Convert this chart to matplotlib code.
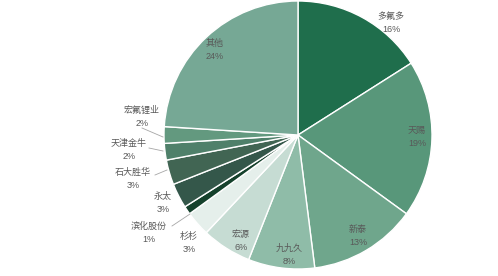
import matplotlib
matplotlib.use('Agg')
import matplotlib.pyplot as plt

plt.rcParams['font.family'] = ['Liberation Sans', 'Noto Sans CJK SC', 'DejaVu Sans']

# 各企业占比（%），从正上方顺时针
names = ['多氟多', '天赐', '新泰', '九九久', '宏源', '杉杉', '滨化股份',
         '永太', '石大胜华', '天津金牛', '宏氟锂业', '其他']
shares = [16, 19, 13, 8, 6, 3, 1, 3, 3, 2, 2, 24]

colors = ['#1f6e4c', '#58977a', '#6fa68c', '#8fbca8', '#c6dcd3', '#e5efeb',
          '#15412c', '#34574a', '#416553', '#4f806a', '#63997f', '#76a895']

# 标签位置（像素坐标，图内中心点），以及是否带引线
label_px = [(391, 23), (417, 137), (358, 236), (289, 255), (241, 241),
            (189, 243), (149, 233), (163, 203), (133, 179), (129, 150),
            (142, 117), (215, 50)]
leader_px = {6: ((172, 226), (190, 214)),
             8: ((155, 175), (167, 170)),
             9: ((149, 148), (163, 151)),
             10: ((142, 128), (163, 137))}

W, H = 498, 276
cx, cy, R = 298, 135, 134


def to_data(px, py):
    return (px - cx) / R, (cy - py) / R


fig = plt.figure(figsize=(W / 100, H / 100), dpi=100)
ax = fig.add_axes([0, 0, 1, 1])
ax.set_xlim(-cx / R, (W - cx) / R)
ax.set_ylim(-(H - cy) / R, cy / R)
ax.axis('off')

ax.pie(shares, colors=colors, startangle=90, counterclock=False,
       radius=1, center=(0, 0), frame=True,
       wedgeprops=dict(edgecolor='white', linewidth=1.0))
ax.set_xlim(-cx / R, (W - cx) / R)
ax.set_ylim(-(H - cy) / R, cy / R)
ax.axis('off')

for i, (n, s) in enumerate(zip(names, shares)):
    x, y = to_data(*label_px[i])
    ax.text(x, y, f'{n}\n{s}%', ha='center', va='center', fontsize=6.5,
            color='#595959', linespacing=1.5)

for i, (p0, p1) in leader_px.items():
    x0, y0 = to_data(*p0)
    x1, y1 = to_data(*p1)
    ax.plot([x0, x1], [y0, y1], color='#a6a6a6', lw=0.6)

fig.savefig('out.png', dpi=100)
